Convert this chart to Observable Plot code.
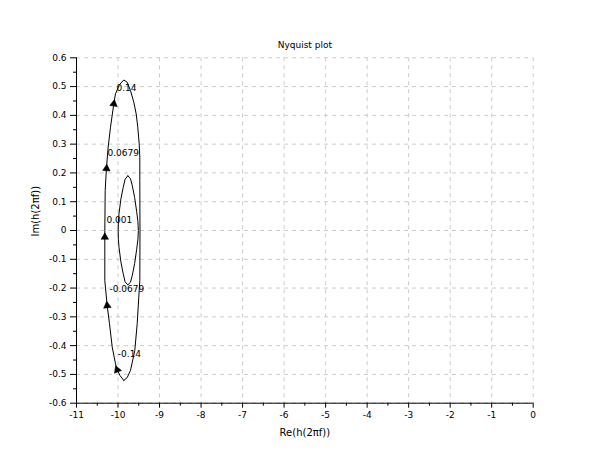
<!DOCTYPE html>
<html>
<head>
<meta charset="utf-8">
<script src="https://cdn.jsdelivr.net/npm/d3@7"></script>
<script src="https://cdn.jsdelivr.net/npm/@observablehq/plot@0.6"></script>
<style>
  html, body { margin: 0; padding: 0; background: #fff; }
</style>
</head>
<body>
<div id="chart"></div>
<script>
// ---- data ----
const title = "Nyquist plot";
const xLabel = "Re(h(2πf))";
const yLabel = "Im(h(2πf))";

const xTicks = [-11, -10, -9, -8, -7, -6, -5, -4, -3, -2, -1, 0];
const xTickLabels = ["-11", "-10", "-9", "-8", "-7", "-6", "-5", "-4", "-3", "-2", "-1", "0"];
const yTicks = [-0.6, -0.5, -0.4, -0.3, -0.2, -0.1, 0, 0.1, 0.2, 0.3, 0.4, 0.5, 0.6];
const yTickLabels = ["-0.6", "-0.5", "-0.4", "-0.3", "-0.2", "-0.1", "0", "0.1", "0.2", "0.3", "0.4", "0.5", "0.6"];
const xMinorTicks = [-10.5, -9.5, -8.5, -7.5, -6.5, -5.5, -4.5, -3.5, -2.5, -1.5, -0.5];
const yMinorTicks = [-0.55, -0.45, -0.35, -0.25, -0.15, -0.05, 0.05, 0.15, 0.25, 0.35, 0.45, 0.55];

// outer loop of the Nyquist curve (Re, Im), traced up the left side
const outerRe = [-9.861, -9.952, -10.020, -10.061, -10.140, -10.205, -10.261, -10.318, -10.318, -10.309,
  -10.277, -10.237, -10.181, -10.102, -10.061, -9.964, -9.861, -9.779, -9.699, -9.620,
  -9.562, -9.524, -9.490, -9.475, -9.475, -9.471, -9.475, -9.500, -9.538, -9.596,
  -9.699, -9.779, -9.861];
const outerIm = [-0.521, -0.504, -0.484, -0.463, -0.405, -0.324, -0.261, -0.174, 0.0, 0.139,
  0.220, 0.290, 0.359, 0.440, 0.475, 0.507, 0.523, 0.515, 0.486, 0.446,
  0.405, 0.359, 0.301, 0.255, 0.174, 0.0, -0.174, -0.232, -0.324, -0.417,
  -0.486, -0.511, -0.521];

// inner loop
const innerRe = [-9.764, -9.700, -9.655, -9.600, -9.550, -9.520, -9.510, -9.520, -9.550, -9.600,
  -9.655, -9.700, -9.764, -9.830, -9.875, -9.930, -9.975, -9.992, -9.996, -9.992,
  -9.975, -9.930, -9.875, -9.830, -9.764];
const innerIm = [0.190, 0.180, 0.155, 0.115, 0.065, 0.030, 0.0, -0.030, -0.065, -0.115,
  -0.155, -0.180, -0.189, -0.178, -0.150, -0.110, -0.060, -0.030, 0.0, 0.030,
  0.060, 0.110, 0.150, 0.178, 0.190];

// frequency markers (arrows) and their labels
const freqLabels = ["0.14", "0.0679", "0.001", "-0.0679", "-0.14"];
const arrowRe = [-10.102, -10.277, -10.318, -10.261, -10.020];
const arrowIm = [0.440, 0.215, -0.023, -0.261, -0.484];
const labelRe = [-10.037, -10.253, -10.277, -10.205, -10.005];
const labelIm = [0.494, 0.269, 0.037, -0.203, -0.428];

// ---- build ----
const W = 610, H = 460;
const M = {left: 76, right: 77.3, top: 57.3, bottom: 57.3};
const xDomain = [-11, 0], yDomain = [-0.6, 0.6];
const kx = (W - M.left - M.right) / (xDomain[1] - xDomain[0]);
const ky = (H - M.top - M.bottom) / (yDomain[1] - yDomain[0]);

const outer = outerRe.map((x, i) => ({x, y: outerIm[i]}));
const inner = innerRe.map((x, i) => ({x, y: innerIm[i]}));

// arrow heading follows the curve direction at the nearest outer point
const arrows = arrowRe.map((x, i) => {
  const y = arrowIm[i];
  let best = 1, bd = Infinity;
  for (let j = 1; j < outer.length - 1; j++) {
    const d = ((outer[j].x - x) * kx) ** 2 + ((outer[j].y - y) * ky) ** 2;
    if (d < bd) { bd = d; best = j; }
  }
  const a = outer[best - 1], b = outer[best + 1];
  const dx = (b.x - a.x) * kx, dy = -(b.y - a.y) * ky;
  const rot = Math.atan2(dx, -dy) * 180 / Math.PI;
  return {x, y, rot};
});
const labels = freqLabels.map((t, i) => ({t, x: labelRe[i], y: labelIm[i]}));

const gridStyle = {stroke: "#cccccc", strokeOpacity: 1, strokeDasharray: "4,4", strokeWidth: 1};

const chart = Plot.plot({
  width: W,
  height: H,
  marginLeft: M.left,
  marginRight: M.right,
  marginTop: M.top,
  marginBottom: M.bottom,
  style: {fontFamily: "'DejaVu Sans', sans-serif", fontSize: "9px", background: "#fff", color: "#000"},
  x: {domain: xDomain, axis: null},
  y: {domain: yDomain, axis: null},
  marks: [
    Plot.gridX(xTicks, {...gridStyle}),
    Plot.gridY(yTicks, {...gridStyle}),
    Plot.ruleX([xDomain[0]], {stroke: "#000", strokeWidth: 1}),
    Plot.ruleY([yDomain[0]], {stroke: "#000", strokeWidth: 1}),
    Plot.axisX(xTicks, {anchor: "bottom", tickSize: 5, tickPadding: 3, tickFormat: (d, i) => xTickLabels[i], label: null, stroke: "#000", fill: "#000", fontSize: 9}),
    Plot.axisX(xMinorTicks, {anchor: "bottom", tickSize: 3, tickFormat: null, text: null, label: null, stroke: "#000"}),
    Plot.axisY(yTicks, {anchor: "left", tickSize: 6, tickPadding: 4, tickFormat: (d, i) => yTickLabels[i], label: null, stroke: "#000", fill: "#000", fontSize: 9}),
    Plot.axisY(yMinorTicks, {anchor: "left", tickSize: 3, tickFormat: null, text: null, label: null, stroke: "#000"}),
    Plot.line(outer, {x: "x", y: "y", stroke: "#000", strokeWidth: 1}),
    Plot.line(inner, {x: "x", y: "y", stroke: "#000", strokeWidth: 1}),
    Plot.dot(arrows, {x: "x", y: "y", symbol: "triangle", r: 2.8, fill: "#000", stroke: "#000", strokeWidth: 0.5, rotate: "rot"}),
    Plot.text(labels, {x: "x", y: "y", text: "t", textAnchor: "start", lineAnchor: "middle", fill: "#000", fontSize: 9}),
    Plot.text([title], {frameAnchor: "top", dy: -16, fill: "#000", fontSize: 9}),
    Plot.text([xLabel], {frameAnchor: "bottom", dy: 33, fill: "#000", fontSize: 10}),
    Plot.text([yLabel], {frameAnchor: "left", dx: -40.5, dy: 6, rotate: -90, fill: "#000", fontSize: 10})
  ]
});
document.getElementById("chart").appendChild(chart);
</script>
</body>
</html>
